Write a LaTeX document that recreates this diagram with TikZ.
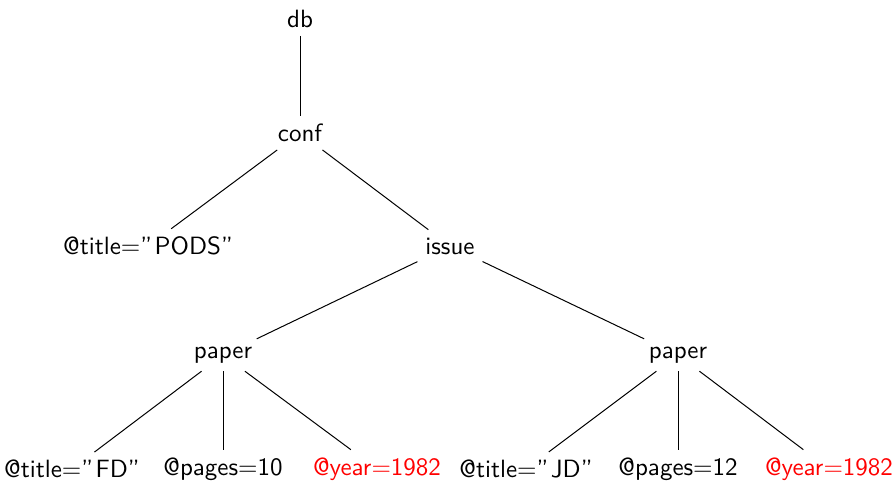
\documentclass[tikz,border=0pt]{standalone}
\renewcommand{\familydefault}{\sfdefault}
\newcommand{\oq}{''\kern1pt}
\begin{document}
\begin{tikzpicture}[x=0.4pt,y=-0.4pt,
  tn/.style={inner sep=3pt,font=\sffamily},
  hl/.style={tn,text=red},
  edge/.style={draw=black,line width=0.4pt}]
\useasboundingbox (0,0) rectangle (895,483);
\node[tn] (db) at (300,19) {db};
\node[tn] (conf) at (300,133) {conf};
\node[tn] (pods) at (148,246) {@title=\oq PODS''};
\node[tn] (issue) at (450,246) {issue};
\node[tn] (p1) at (223,355) {paper};
\node[tn] (p2) at (678,355) {paper};
\node[tn] (t1) at (72,469) {@title=\oq FD''};
\node[tn] (g1) at (223,469) {@pages=10};
\node[hl] (y1) at (377,469) {@year=1982};
\node[tn] (t2) at (526,469) {@title=\oq JD''};
\node[tn] (g2) at (678,469) {@pages=12};
\node[hl] (y2) at (829,469) {@year=1982};
\draw[edge] (db) -- (conf);
\draw[edge] (conf) -- (pods);
\draw[edge] (conf) -- (issue);
\draw[edge] (issue) -- (p1);
\draw[edge] (issue) -- (p2);
\draw[edge] (p1) -- (t1);
\draw[edge] (p1) -- (g1);
\draw[edge] (p1) -- (y1);
\draw[edge] (p2) -- (t2);
\draw[edge] (p2) -- (g2);
\draw[edge] (p2) -- (y2);
\end{tikzpicture}
\end{document}
